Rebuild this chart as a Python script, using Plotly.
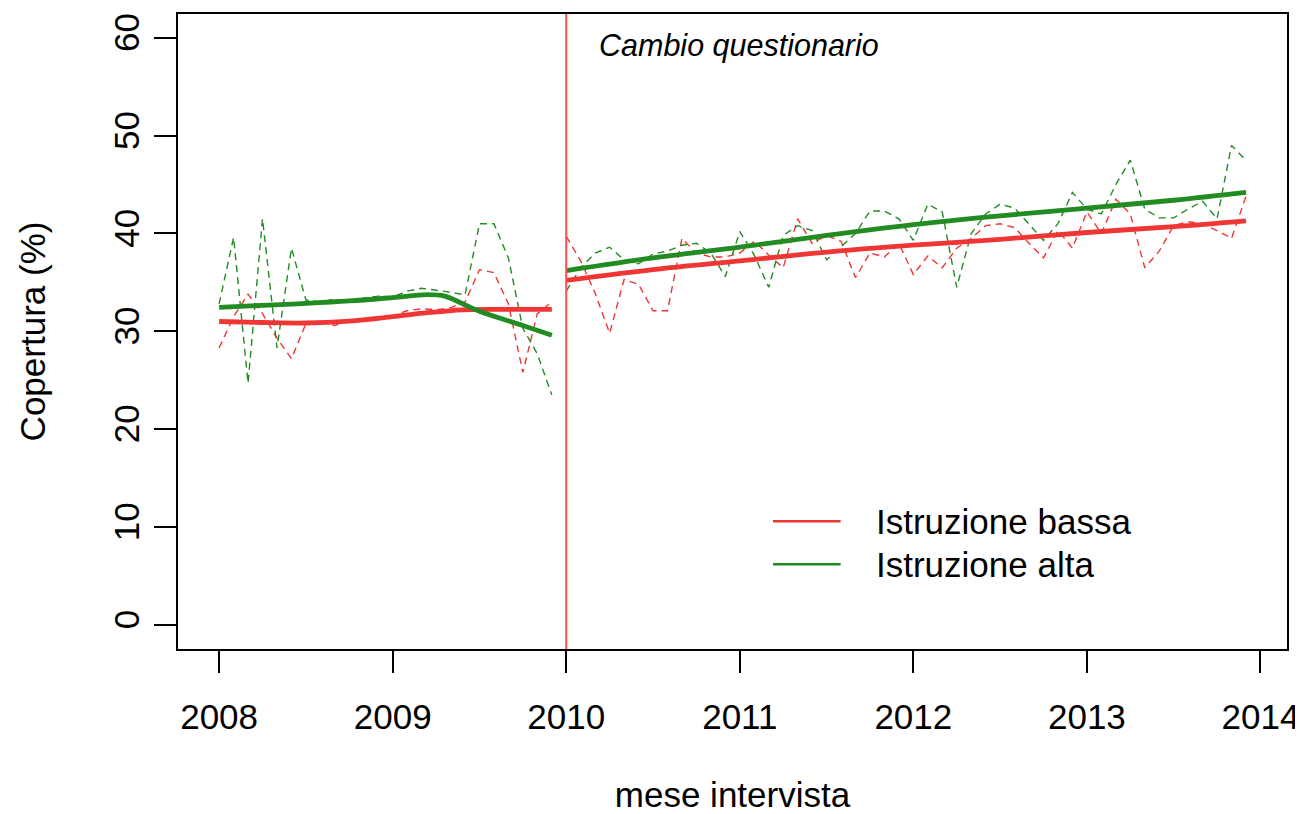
import plotly.graph_objects as go

# ---------------- data ----------------
start_year = 2008
n_months = 72
change_year = 2010  # "Cambio questionario"

bassa_monthly = [
    28.3, 31.5, 33.8, 31.8, 29.3, 27.2, 30.8, 31.0, 30.6, 31.2, 31.0, 31.4,
    31.6, 32.1, 32.3, 32.2, 32.4, 33.0, 36.3, 36.0, 32.8, 25.8, 31.8, 33.0,
    39.7, 37.2, 33.9, 29.8, 35.3, 34.8, 32.1, 32.1, 39.5, 38.0, 37.6, 37.6,
    38.0, 39.2, 37.8, 36.5, 41.5, 39.0, 39.8, 39.2, 35.5, 38.0, 37.6, 39.0,
    35.8, 37.7, 36.5, 38.5, 39.5, 40.8, 41.0, 40.6, 39.0, 37.5, 40.3, 38.5,
    42.2, 40.0, 43.5, 42.0, 36.5, 38.2, 40.8, 41.2, 41.0, 40.3, 39.5, 43.8,
]
alta_monthly = [
    32.8, 39.6, 24.7, 41.5, 28.3, 38.5, 33.2, 33.0, 33.3, 33.0, 33.4, 33.6,
    33.5, 34.1, 34.4, 34.2, 34.0, 33.7, 41.0, 41.0, 37.5, 30.3, 27.7, 23.5,
    34.1, 36.5, 38.0, 38.6, 37.3, 36.9, 37.9, 38.2, 38.8, 39.0, 38.0, 35.6,
    40.2, 37.8, 34.5, 39.8, 40.8, 40.3, 37.3, 38.6, 40.0, 42.3, 42.3, 41.5,
    39.3, 43.0, 42.2, 34.5, 40.0, 42.0, 43.0, 42.6, 41.0, 39.3, 41.0, 44.2,
    42.5, 42.0, 45.0, 47.5, 42.5, 41.6, 41.6, 42.5, 43.3, 41.5, 49.0, 47.5,
]

# smoothed trends (knots)
bassa_smooth_pre_x = [2008.0, 2008.25, 2008.5, 2008.75, 2009.0, 2009.2, 2009.4, 2009.6, 2009.917]
bassa_smooth_pre_y = [31.0, 30.9, 30.85, 31.05, 31.5, 31.9, 32.2, 32.25, 32.25]
alta_smooth_pre_x = [2008.0, 2008.25, 2008.5, 2008.75, 2009.0, 2009.2, 2009.3, 2009.4, 2009.5, 2009.75, 2009.917]
alta_smooth_pre_y = [32.45, 32.65, 32.85, 33.1, 33.45, 33.75, 33.6, 32.85, 32.05, 30.6, 29.6]

post_smooth_x = [2010.0, 2010.5, 2011.0, 2011.5, 2012.0, 2012.5, 2013.0, 2013.5, 2013.917]
bassa_smooth_post_y = [35.2, 36.3, 37.2, 38.1, 38.8, 39.4, 40.1, 40.7, 41.3]
alta_smooth_post_y = [36.2, 37.5, 38.6, 39.8, 40.9, 41.8, 42.6, 43.4, 44.2]

x_ticks = [2008, 2009, 2010, 2011, 2012, 2013, 2014]
y_ticks = [0, 10, 20, 30, 40, 50, 60]

series_names = ["Istruzione bassa", "Istruzione alta"]
annotation_text = "Cambio questionario"
x_title = "mese intervista"
y_title = "Copertura (%)"

# ---------------- styling ----------------
RED = "#F03535"
GREEN = "#228B22"
VLINE = "#FF4A4A"
FONT = "Liberation Sans, Arial, sans-serif"

x_month = [start_year + m / 12 for m in range(n_months)]
n_pre = (change_year - start_year) * 12

fig = go.Figure()

for vals, col in [(bassa_monthly, RED), (alta_monthly, GREEN)]:
    for sl in (slice(0, n_pre), slice(n_pre, n_months)):
        fig.add_trace(go.Scatter(
            x=x_month[sl], y=vals[sl], mode="lines",
            line=dict(color=col, width=1.4, dash="7px,5px"),
            showlegend=False, hoverinfo="skip"))

smooth_sets = [
    (bassa_smooth_pre_x, bassa_smooth_pre_y, RED),
    (alta_smooth_pre_x, alta_smooth_pre_y, GREEN),
    (post_smooth_x, bassa_smooth_post_y, RED),
    (post_smooth_x, alta_smooth_post_y, GREEN),
]
for sx, sy, col in smooth_sets:
    fig.add_trace(go.Scatter(
        x=sx, y=sy, mode="lines",
        line=dict(color=col, width=4.8, shape="spline", smoothing=1.0),
        showlegend=False, hoverinfo="skip"))

# vertical marker line
fig.add_shape(type="line", xref="x", yref="paper", x0=change_year, x1=change_year,
              y0=0, y1=1, line=dict(color=VLINE, width=2))

fig.add_annotation(x=0.3775, y=0.951, xref="paper", yref="paper",
                   text="<i>" + annotation_text + "</i>", showarrow=False,
                   xanchor="left", yanchor="middle",
                   font=dict(family=FONT, size=30.5, color="black"))

# manual legend (R style)
legend_items = [(series_names[0], RED, 0.2013), (series_names[1], GREEN, 0.1334)]
for name, col, yp in legend_items:
    fig.add_shape(type="line", xref="paper", yref="paper",
                  x0=0.5365, x1=0.5975, y0=yp, y1=yp,
                  line=dict(color=col, width=2.5))
    fig.add_annotation(x=0.6275, y=yp, xref="paper", yref="paper", text=name,
                       showarrow=False, xanchor="left", yanchor="middle",
                       font=dict(family=FONT, size=35, color="black"))

# the page body has an 8px margin, so the figure is sized/margined to compensate
fig.update_layout(
    width=1295, height=806,
    margin=dict(l=170, r=15, t=4, b=165),
    paper_bgcolor="white", plot_bgcolor="white",
    font=dict(family=FONT, size=35, color="black"),
    showlegend=False,
)
fig.update_xaxes(
    range=[2007.763, 2014.153], tickvals=x_ticks, ticktext=[str(t) for t in x_ticks],
    showgrid=False, zeroline=False, showline=True, mirror=True,
    linecolor="black", linewidth=2, ticks="outside", ticklen=22, tickwidth=2,
    tickcolor="black", tickfont=dict(size=35), ticklabelstandoff=14,
    title=dict(text=x_title, font=dict(size=35), standoff=49),
)
fig.update_yaxes(
    range=[-2.48, 62.44], tickvals=y_ticks, ticktext=[str(t) for t in y_ticks],
    tickangle=-90,
    showgrid=False, zeroline=False, showline=True, mirror=True,
    linecolor="black", linewidth=2, ticks="outside", ticklen=22, tickwidth=2,
    tickcolor="black", tickfont=dict(size=35), ticklabelstandoff=1,
    title=dict(text=y_title, font=dict(size=35), standoff=51),
)

fig.write_html("out.html")
